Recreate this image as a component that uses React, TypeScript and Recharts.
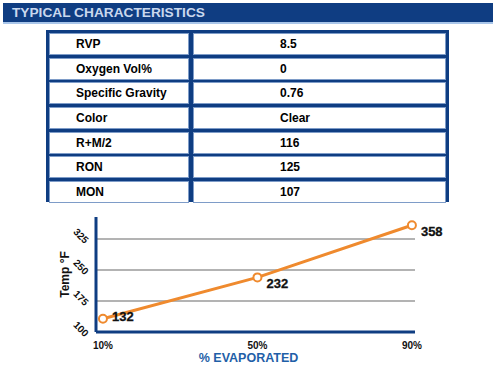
import React from 'react';
import { LineChart, Line, XAxis, YAxis, CartesianGrid, LabelList, Label } from 'recharts';

const propertyNames = ['RVP', 'Oxygen Vol%', 'Specific Gravity', 'Color', 'R+M/2', 'RON', 'MON'];
const propertyValues = ['8.5', '0', '0.76', 'Clear', '116', '125', '107'];

const evaporated = [10, 50, 90];
const tempF = [132, 232, 358];
const yTicks = [100, 175, 250, 325];

const chartData = evaporated.map((p, i) => ({ pct: p, temp: tempF[i] }));

const NAVY = '#0F3D82';
const ORANGE = '#EF8A2E';
const FONT = '"Liberation Sans", Arial, sans-serif';

const YTick = ({ x, y, payload }: any) => {
  const cx = x - 7;
  const cy = y - 3;
  return (
    <text x={cx} y={cy} textAnchor="middle" dominantBaseline="central" fontSize={10} fontWeight="bold"
      fontFamily={FONT} fill="#111" transform={`rotate(45 ${cx} ${cy})`}>
      {payload.value}
    </text>
  );
};

const PointLabel = (props: any) => {
  const { x, y, value, index } = props;
  const dy = index === 0 ? -2 : 6;
  return (
    <text x={x + 9} y={y + dy} dominantBaseline="central" fontSize={13} fontWeight="bold" fontFamily={FONT}
      fill="#111" stroke="#111" strokeWidth={0.3}>
      {value}
    </text>
  );
};

export default function App() {
  return (
    <div style={{ position: 'absolute', left: 0, top: 0, width: 500, height: 368, background: '#fff', fontFamily: FONT }}>
      <div style={{ position: 'absolute', left: 3, top: 3, width: 490, height: 19, background: NAVY, borderBottom: '2px solid #A9C6EA' }}>
        <span style={{ position: 'absolute', left: 9, top: 2, fontSize: 13.7, fontWeight: 'bold', color: '#C9D8EE' }}>
          TYPICAL CHARACTERISTICS
        </span>
      </div>

      <div style={{ position: 'absolute', left: 46, top: 30, width: 397, height: 166, background: NAVY, padding: 3 }}>
        {propertyNames.map((name, i) => (
          <div key={name} style={{ display: 'flex', gap: 4, height: 22, marginBottom: i < propertyNames.length - 1 ? 2.7 : 0 }}>
            <div style={{ width: 140, background: '#fff', border: '1px solid #7E9CC8', boxSizing: 'border-box', fontSize: 12, fontWeight: 'bold', paddingLeft: 26, lineHeight: '20px' }}>
              {name}
            </div>
            <div style={{ flex: 1, background: '#fff', border: '1px solid #7E9CC8', boxSizing: 'border-box', fontSize: 12, fontWeight: 'bold', paddingLeft: 86, lineHeight: '20px' }}>
              {propertyValues[i]}
            </div>
          </div>
        ))}
      </div>

      <div style={{ position: 'absolute', left: 0, top: 0 }}>
        <LineChart width={500} height={368} data={chartData} margin={{ top: 217, right: 85, bottom: 6, left: 0 }}>
          <CartesianGrid vertical={false} stroke="#9A9A9A" strokeWidth={1.5} horizontalValues={[175, 250, 325]} />
          <XAxis dataKey="pct" type="number" domain={[8.2, 90.8]} ticks={evaporated} height={30}
            tickFormatter={(v: number) => `${v}%`} tickLine={false} stroke={NAVY} strokeWidth={3}
            tick={{ fontSize: 10, fontWeight: 'bold', fill: '#111', fontFamily: FONT }} tickMargin={4}>
            <Label value="% EVAPORATED" position="insideBottom" offset={0} dx={-7} fill="#1F5FA8"
              style={{ fontSize: 12.5, fontWeight: 'bold', fontFamily: FONT }} />
          </XAxis>
          <YAxis type="number" domain={[100, 378]} ticks={yTicks} width={96} tickLine={false}
            stroke={NAVY} strokeWidth={3} tick={<YTick />} allowDataOverflow>
            <Label value="Temp °F" angle={-90} position="insideLeft" offset={65} fill="#111"
              style={{ fontSize: 12, fontWeight: 'bold', fontFamily: FONT, textAnchor: 'middle' }} />
          </YAxis>
          <Line type="linear" dataKey="temp" stroke={ORANGE} strokeWidth={3} isAnimationActive={false}
            dot={{ r: 4, fill: '#fff', stroke: ORANGE, strokeWidth: 2 }}>
            <LabelList dataKey="temp" content={<PointLabel />} />
          </Line>
        </LineChart>
      </div>
    </div>
  );
}
